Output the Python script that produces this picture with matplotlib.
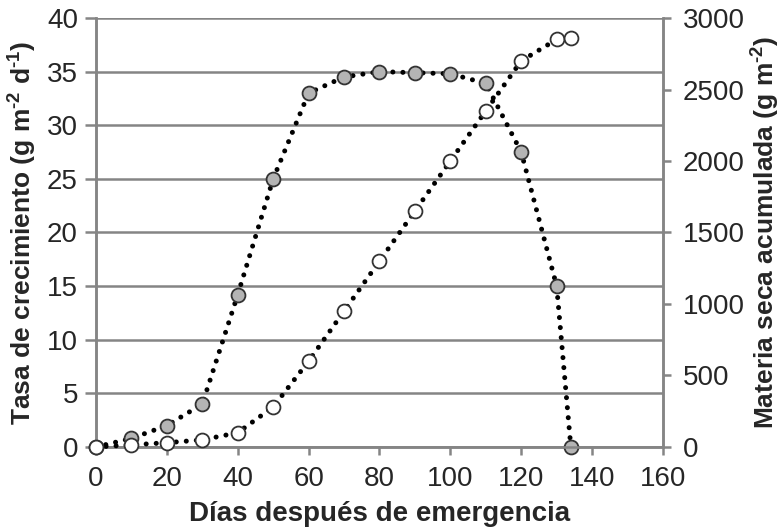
import numpy as np
import matplotlib.pyplot as plt

plt.rcParams['font.family'] = ['Liberation Sans', 'DejaVu Sans']
plt.rcParams['mathtext.fontset'] = 'custom'
plt.rcParams['mathtext.rm'] = 'Liberation Sans:bold'
plt.rcParams['mathtext.bf'] = 'Liberation Sans:bold'
plt.rcParams['mathtext.default'] = 'bf'

# growth rate (left axis)
dias_tasa = [0, 10, 20, 30, 40, 50, 60, 70, 80, 90, 100, 110, 120, 130, 134]
tasa = [0, 0.8, 2.0, 4.0, 14.2, 25.0, 33.0, 34.5, 35.0, 34.9, 34.8, 33.9, 27.5, 15.0, 0]

# accumulated dry matter (right axis)
dias_ms = [0, 10, 20, 30, 40, 50, 60, 70, 80, 90, 100, 110, 120, 130, 134]
materia_seca = [0, 15, 30, 50, 100, 280, 600, 950, 1300, 1650, 2000, 2350, 2700, 2850, 2860]

grid_col = '#858585'
txt_col = '#262626'
fs = 20

fig = plt.figure(figsize=(7.83, 5.31), dpi=100)
ax1 = fig.add_axes([0.1226, 0.1582, 0.7241, 0.8079])
ax2 = ax1.twinx()

dots = (0, (0.01, 2.0))
ax1.plot(dias_tasa, tasa, color='black', linestyle=dots, linewidth=3.6,
         dash_capstyle='round', marker='o', markersize=10,
         markerfacecolor='#b4b4b4', markeredgecolor='#333333', markeredgewidth=1.3,
         clip_on=False, zorder=3)
ax2.plot(dias_ms, materia_seca, color='black', linestyle=dots, linewidth=3.6,
         dash_capstyle='round', marker='o', markersize=10,
         markerfacecolor='white', markeredgecolor='#333333', markeredgewidth=1.3,
         clip_on=False, zorder=3)

ax1.set_xlim(0, 160)
ax1.set_ylim(0, 40)
ax2.set_ylim(0, 3000)
ax1.set_xticks(np.arange(0, 161, 20))
ax1.set_yticks(np.arange(0, 41, 5))
ax2.set_yticks(np.arange(0, 3001, 500))

ax1.grid(axis='y', color=grid_col, linewidth=1.8)
ax1.set_axisbelow(True)

for ax in (ax1, ax2):
    for side in ('left', 'right', 'bottom'):
        ax.spines[side].set_color(grid_col)
        ax.spines[side].set_linewidth(1.8)
    ax.spines['top'].set_visible(False)

ax1.tick_params(axis='y', direction='out', length=8, width=1.8, color=grid_col,
                labelsize=fs, labelcolor=txt_col, pad=5)
ax1.tick_params(axis='x', direction='out', length=6, width=1.8, color=grid_col,
                labelsize=fs, labelcolor=txt_col, pad=8)
ax2.tick_params(axis='y', direction='out', length=6, width=1.8, color=grid_col,
                labelsize=fs, labelcolor=txt_col, pad=8)

ax1.set_xlabel('Días después de emergencia', fontsize=fs, fontweight='bold',
               color=txt_col, labelpad=6)
ax1.set_ylabel(r'Tasa de crecimiento (g m$^{\text{-2}}$ d$^{\text{-1}}$)', fontsize=19,
               fontweight='bold', color=txt_col, labelpad=6)
ax2.set_ylabel(r'Materia seca acumulada (g m$^{\text{-2}}$)', fontsize=19,
               fontweight='bold', color=txt_col, labelpad=4)

fig.savefig('out.png', dpi=100)
